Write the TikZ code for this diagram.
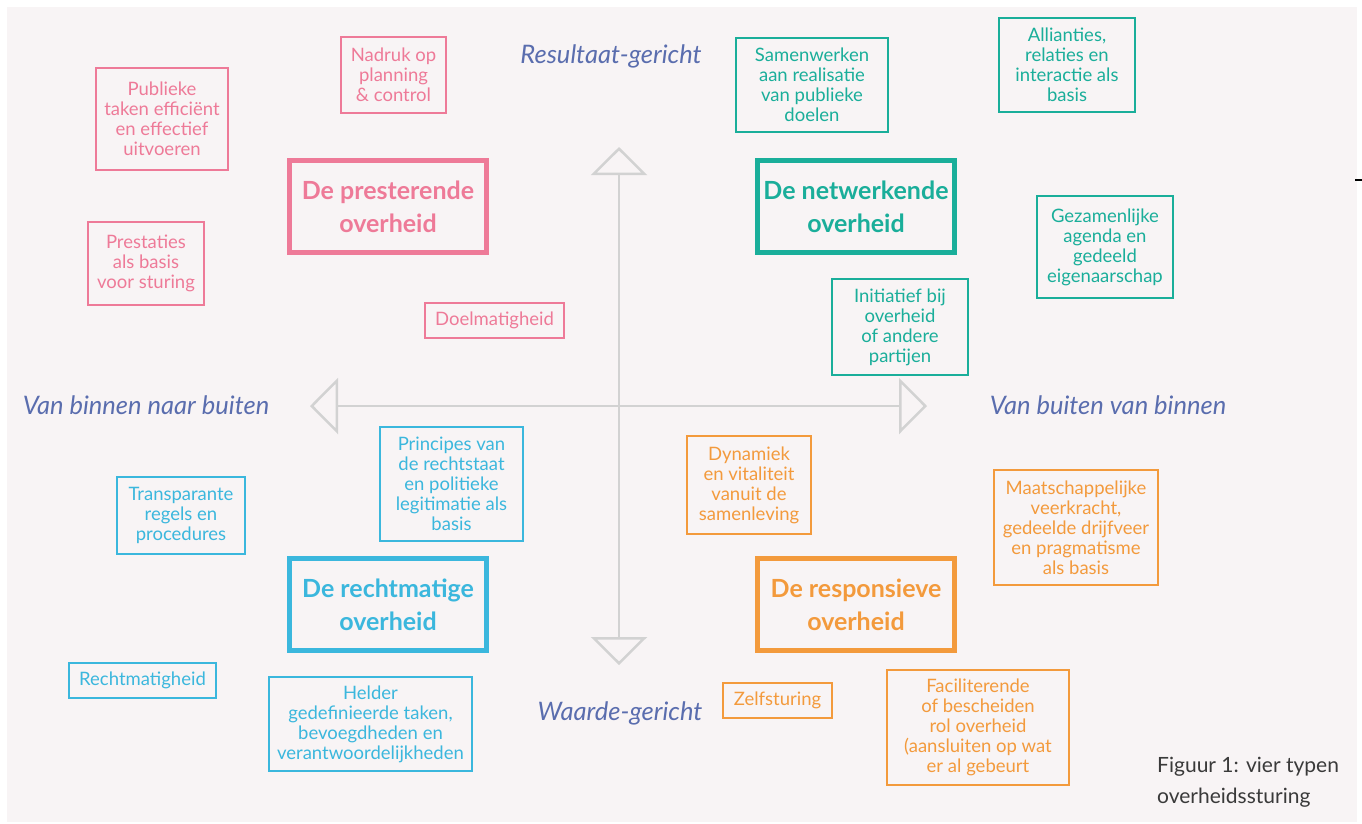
\documentclass[tikz,border=0pt]{standalone}
\usepackage{fontspec}
\setmainfont{Lato}
\usetikzlibrary{arrows.meta}
\definecolor{bgc}{HTML}{F8F4F5}
\definecolor{pinkc}{HTML}{EE7A98}
\definecolor{tealc}{HTML}{1AAE9A}
\definecolor{cyanc}{HTML}{3BB7DD}
\definecolor{orangec}{HTML}{F39A3C}
\definecolor{axisc}{HTML}{D2D2D2}
\definecolor{labelc}{HTML}{5A6DAE}
\definecolor{capc}{HTML}{3A3A3A}
\tikzset{
  axisline/.style={draw=axisc, line width=2.5pt, -{Triangle[open,length=28pt,width=56pt]}},
  axlabel/.style={text=labelc, font=\fontsize{25.5}{30}\selectfont\itshape, inner sep=0pt},
  bigbox/.style={draw=#1, text=#1, line width=5pt, align=center, inner sep=0pt,
    font=\fontsize{25}{33}\selectfont\bfseries, minimum width=197pt, minimum height=92pt},
  smallbox/.style={draw=#1, text=#1, line width=1.3pt, align=center, inner sep=0pt,
    font=\fontsize{18.5}{20}\selectfont},
}
\begin{document}
\begin{tikzpicture}[x=1pt,y=-1pt]
\useasboundingbox (0,0) rectangle (1362,823);
\fill[bgc] (7,7) rectangle (1357,822);
\draw[black, line width=1.5pt] (1355,180) -- (1362,180);
% axes
\coordinate (c) at (619,406);
\coordinate (top) at (619,147);
\coordinate (bot) at (619,665);
\coordinate (lft) at (310,406);
\coordinate (rgt) at (927,406);
\draw[axisline] (c) -- (top);
\draw[axisline] (c) -- (bot);
\draw[axisline] (c) -- (lft);
\draw[axisline] (c) -- (rgt);
% axis labels
\node[axlabel] (resg) at (611,56) {Resultaat-gericht};
\node[axlabel] (waag) at (620,713) {Waarde-gericht};
\node[axlabel] (vbnb) at (146,405) {Van binnen naar buiten};
\node[axlabel] (vbvb) at (1108,405) {Van buiten van binnen};
% main boxes
\node[bigbox=pinkc] (pres) at (388,206.5) {De presterende\\overheid};
\node[bigbox=tealc] (netw) at (856,206.5) {De netwerkende\\overheid};
\node[bigbox=cyanc] (recht) at (388,604.5) {De rechtmatige\\overheid};
\node[bigbox=orangec] (resp) at (856,604.5) {De responsieve\\overheid};
% pink
\node[smallbox=pinkc, minimum width=132pt, minimum height=102pt] (p1) at (162,119) {Publieke\\taken efficiënt\\en effectief\\uitvoeren};
\node[smallbox=pinkc, minimum width=105pt, minimum height=76pt] (p2) at (393.5,75) {Nadruk op\\planning\\\& control};
\node[smallbox=pinkc, minimum width=116pt, minimum height=83pt] (p3) at (146,263.5) {Prestaties\\als basis\\voor sturing};
\node[smallbox=pinkc, minimum width=139pt, minimum height=35pt] (p4) at (494.5,320.5) {Doelmatigheid};
% teal
\node[smallbox=tealc, minimum width=152pt, minimum height=94pt] (t1) at (812,85) {Samenwerken\\aan realisatie\\van publieke\\doelen};
\node[smallbox=tealc, minimum width=136pt, minimum height=94pt] (t2) at (1067,65) {Allianties,\\relaties en\\interactie als\\basis};
\node[smallbox=tealc, minimum width=136pt, minimum height=102pt] (t3) at (1105,247) {Gezamenlijke\\agenda en\\gedeeld\\eigenaarschap};
\node[smallbox=tealc, minimum width=136pt, minimum height=96pt] (t4) at (900,327) {Initiatief bij\\overheid\\of andere\\partijen};
% cyan
\node[smallbox=cyanc, minimum width=143pt, minimum height=114pt] (c1) at (451.5,484) {Principes van\\de rechtstaat\\en politieke\\legitimatie als\\basis};
\node[smallbox=cyanc, minimum width=128pt, minimum height=77pt] (c2) at (181,515.5) {Transparante\\regels en\\procedures};
\node[smallbox=cyanc, minimum width=147pt, minimum height=35pt] (c3) at (142.5,680.5) {Rechtmatigheid};
\node[smallbox=cyanc, minimum width=203pt, minimum height=94pt] (c4) at (370.5,724) {Helder\\gedefinieerde taken,\\bevoegdheden en\\verantwoordelijkheden};
% orange
\node[smallbox=orangec, minimum width=124pt, minimum height=98pt] (o1) at (749,485) {Dynamiek\\en vitaliteit\\vanuit de\\samenleving};
\node[smallbox=orangec, minimum width=164pt, minimum height=115pt] (o2) at (1076,527.5) {Maatschappelijke\\veerkracht,\\gedeelde drijfveer\\en pragmatisme\\als basis};
\node[smallbox=orangec, minimum width=109pt, minimum height=35pt] (o3) at (777.5,700.5) {Zelfsturing};
\node[smallbox=orangec, minimum width=182pt, minimum height=115pt] (o4) at (978,727.5) {Faciliterende\\of bescheiden\\rol overheid\\(aansluiten op wat\\er al gebeurt};
% caption
\node[text=capc, font=\fontsize{21}{31}\selectfont, align=left, anchor=north west, inner sep=0pt] (cap) at (1157,757) {Figuur 1: vier typen\\overheidssturing};
\end{tikzpicture}
\end{document}
